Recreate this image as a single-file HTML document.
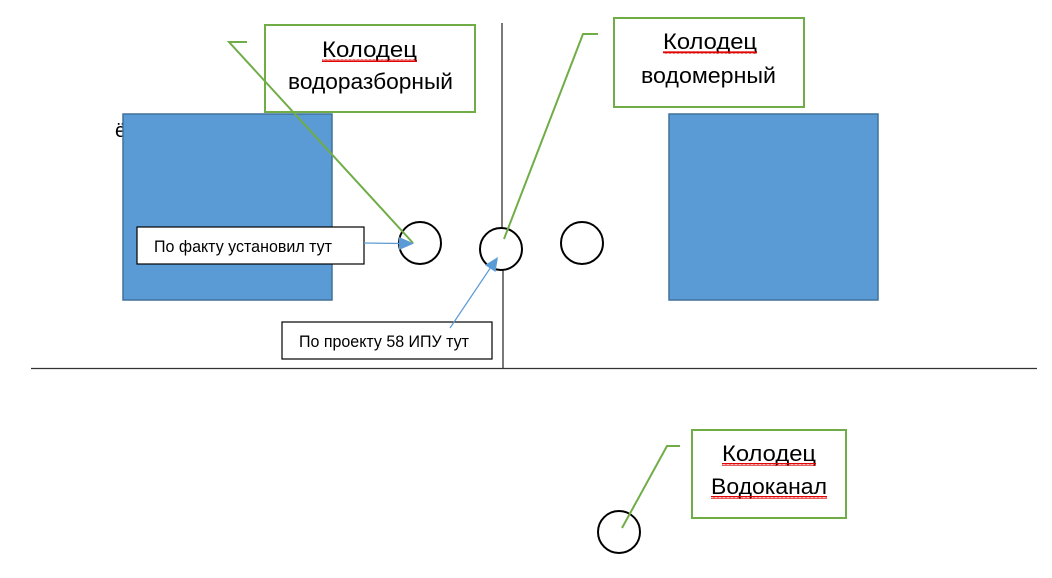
<!DOCTYPE html>
<html><head><meta charset="utf-8">
<style>
html,body{margin:0;padding:0;background:#fff;width:1052px;height:578px;overflow:hidden;}
svg{display:block;}
text{font-family:"Liberation Sans","Noto Sans CJK SC",sans-serif;fill:#000;}
</style></head>
<body>
<svg width="1052" height="578" viewBox="0 0 1052 578" xmlns="http://www.w3.org/2000/svg">
<defs>
<pattern id="wave" x="0" y="0" width="4" height="3" patternUnits="userSpaceOnUse">
<path d="M0,2.2 L1,0.6 L2,2.2 L3,0.6 L4,2.2" stroke="#e00000" stroke-width="1.2" fill="none"/>
</pattern>
</defs>

<!-- stray char -->
<text x="115" y="137" font-size="20">ё</text>

<!-- blue rects -->
<rect x="123" y="114" width="209" height="186" fill="#5b9bd5" stroke="#41719c" stroke-width="1.5"/>
<rect x="669" y="114" width="209" height="186" fill="#5b9bd5" stroke="#41719c" stroke-width="1.5"/>

<!-- main lines -->
<line x1="502" y1="23" x2="502" y2="228" stroke="#222" stroke-width="1.2"/>
<line x1="503" y1="270" x2="503" y2="368" stroke="#222" stroke-width="1.2"/>
<line x1="31" y1="368.5" x2="1037" y2="368.5" stroke="#333" stroke-width="1.3"/>

<!-- circles -->
<circle cx="420" cy="243" r="21" fill="none" stroke="#000" stroke-width="2"/>
<circle cx="501" cy="249" r="21" fill="none" stroke="#000" stroke-width="2"/>
<circle cx="582" cy="243" r="21" fill="none" stroke="#000" stroke-width="2"/>
<circle cx="619" cy="532" r="21" fill="none" stroke="#000" stroke-width="2"/>

<!-- green boxes -->
<rect x="265" y="25" width="210" height="87" fill="#fff" stroke="#70ad47" stroke-width="2"/>
<rect x="614" y="18" width="190" height="89" fill="#fff" stroke="#70ad47" stroke-width="2"/>
<rect x="692" y="430" width="154" height="88" fill="#fff" stroke="#70ad47" stroke-width="2"/>

<!-- green leaders -->
<polyline points="247,42 229,42 413,243" fill="none" stroke="#70ad47" stroke-width="2"/>
<polyline points="598,34 583,34 504,239" fill="none" stroke="#70ad47" stroke-width="2"/>
<polyline points="680,446 667,446 622,528" fill="none" stroke="#70ad47" stroke-width="2"/>

<!-- box texts -->
<text x="322" y="57" font-size="22" textLength="95" lengthAdjust="spacingAndGlyphs">Колодец</text>
<rect x="322" y="59" width="95" height="3" fill="url(#wave)"/>
<text x="288" y="89" font-size="22" textLength="165" lengthAdjust="spacingAndGlyphs">водоразборный</text>

<text x="663" y="49" font-size="22" textLength="94" lengthAdjust="spacingAndGlyphs">Колодец</text>
<rect x="663" y="51" width="94" height="3" fill="url(#wave)"/>
<text x="641" y="83" font-size="22" textLength="135" lengthAdjust="spacingAndGlyphs">водомерный</text>

<text x="722" y="461" font-size="22" textLength="94" lengthAdjust="spacingAndGlyphs">Колодец</text>
<rect x="722" y="463" width="94" height="3" fill="url(#wave)"/>
<text x="711" y="494" font-size="22" textLength="116" lengthAdjust="spacingAndGlyphs">Водоканал</text>
<rect x="711" y="496" width="116" height="3" fill="url(#wave)"/>

<!-- small text boxes -->
<rect x="137" y="227" width="227" height="37" fill="#fff" stroke="#000" stroke-width="1.2"/>
<text x="154" y="252" font-size="16.5" textLength="178" lengthAdjust="spacingAndGlyphs">По факту установил тут</text>

<rect x="282" y="322" width="210" height="37" fill="#fff" stroke="#000" stroke-width="1.2"/>
<text x="299" y="347" font-size="16.5" textLength="170" lengthAdjust="spacingAndGlyphs">По проекту 58 ИПУ тут</text>

<!-- blue arrows -->
<line x1="364" y1="243" x2="402" y2="243.5" stroke="#5b9bd5" stroke-width="1.2"/>
<polygon points="414,243.5 399,237 399,250" fill="#5b9bd5"/>

<line x1="450" y1="328" x2="491" y2="267" stroke="#5b9bd5" stroke-width="1.2"/>
<polygon points="498,257 495.5,272 485,265" fill="#5b9bd5"/>
</svg>
</body></html>
